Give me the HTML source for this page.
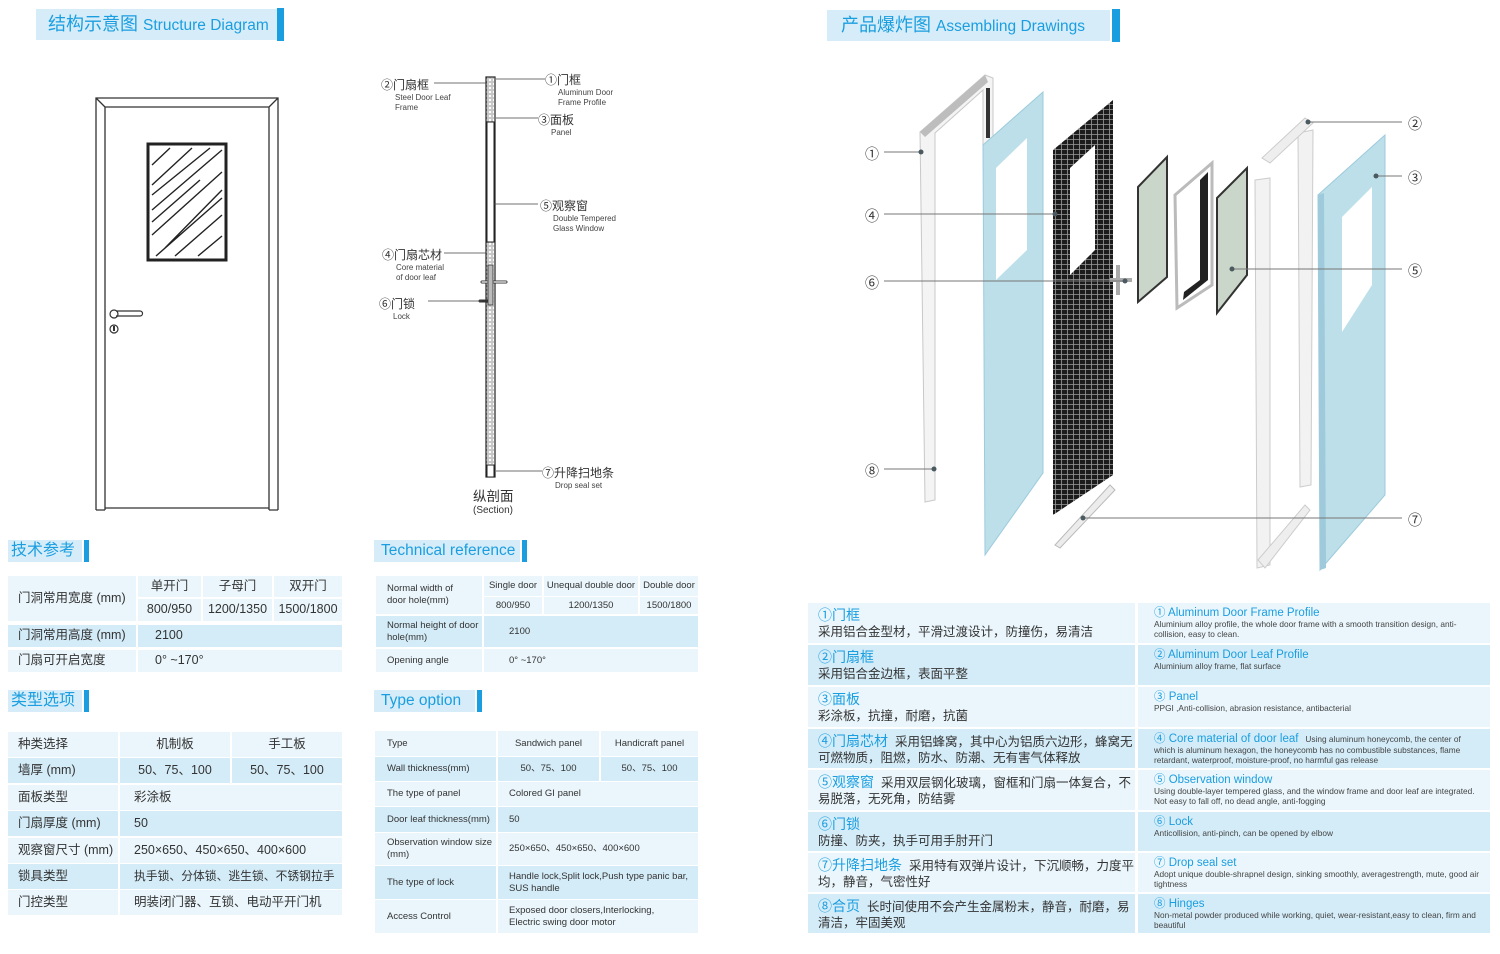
<!DOCTYPE html>
<html><head><meta charset="utf-8">
<style>
*{margin:0;padding:0;box-sizing:border-box}
body{width:1500px;height:954px;background:#fff;position:relative;overflow:hidden;font-family:"Liberation Sans","Noto Sans CJK SC",sans-serif;color:#333}
.a{position:absolute}
.hd{position:absolute;background:#d6edf9;color:#1a9ee0;white-space:nowrap}
.bar{position:absolute;background:#1a9ee0}
.c{position:absolute;display:flex;align-items:center;font-size:12.5px;color:#333;line-height:1.25;white-space:nowrap}
.d{background:#d4ecf8}.l{background:#eaf6fc}
.s{font-size:9.5px}
.ctr{justify-content:center;text-align:center}
.rc{position:absolute;left:808px;width:327px;padding:4px 0 0 10px;font-size:12.5px;line-height:16px;color:#333}
.rr{position:absolute;left:1138px;width:352px;padding:4px 8px 0 16px;font-size:8.3px;line-height:10px;color:#444}
.rc b,.rr b{font-weight:normal;color:#1a9ee0}
.rc b{font-size:14px}.rr b{font-size:11.5px;line-height:12px}
.lb{position:absolute;font-size:12px;color:#333;white-space:nowrap}
.lb i{display:block;font-style:normal;font-size:8px;line-height:10px;color:#444}
</style></head><body>

<div class="hd" style="left:36px;top:9px;width:241px;height:31px;font-size:18px;line-height:31px;padding-left:12px">结构示意图 <span style="font-size:15.5px">Structure Diagram</span></div>
<div class="bar" style="left:277px;top:8px;width:7px;height:33px"></div>
<div class="hd" style="left:827px;top:10px;width:283px;height:31px;font-size:18px;line-height:31px;padding-left:14px">产品爆炸图 <span style="font-size:15.5px">Assembling Drawings</span></div>
<div class="bar" style="left:1112px;top:9px;width:8px;height:33px"></div>

<svg class="a" style="left:0;top:0" width="370" height="530">
<g fill="none" stroke="#333" stroke-width="1.3">
<path d="M96 510 V98 H278 V510 M105 510 V107 H269 V510 M96 98 L105 107 M278 98 L269 107 M96 510 H105 M269 510 H278 M105 508 H269"/>
</g>
<rect x="148" y="144" width="78" height="116" fill="#fff" stroke="#222" stroke-width="3"/>
<g stroke="#222" stroke-width="1.4">
<path d="M152 165 L170 148 M152 185 L192 148 M152 210 L222 150 M152 235 L222 172 M156 256 L222 198 M175 256 L222 215 M198 256 L222 236 M152 222 L200 180 M165 248 L222 190 M152 195 L210 148"/>
</g>
<g fill="none" stroke="#333" stroke-width="1.2">
<circle cx="114" cy="314" r="4"/><path d="M116 311 H140 A2.5 2.5 0 0 1 140 316 H116"/>
<circle cx="114" cy="329" r="4"/>
</g>
<rect x="113" y="326" width="2" height="5" fill="#333"/>
</svg>

<svg class="a" style="left:370px;top:60px" width="260" height="430">
<defs><pattern id="hc" width="4" height="4" patternUnits="userSpaceOnUse"><rect width="4" height="4" fill="#fff"/><circle cx="2" cy="2" r="1.2" fill="none" stroke="#777" stroke-width=".6"/></pattern></defs>
<rect x="116" y="17" width="9" height="400" fill="url(#hc)" stroke="#222" stroke-width="1.2"/>
<rect x="117" y="62" width="7" height="120" fill="#fff" stroke="#222"/>
<rect x="117" y="405" width="7" height="12" fill="#fff" stroke="#222"/>
<path d="M112 222 H136 M110 241 H122" stroke="#333" stroke-width="3" stroke-linecap="round" fill="none"/>
<path d="M112 222 H136" stroke="#fff" stroke-width="1.2" stroke-linecap="round"/>
<rect x="118" y="205" width="5" height="40" fill="#bbb" stroke="#333" stroke-width=".8"/>
<g stroke="#444" stroke-width=".8">
<path d="M64 23 H117 M126 19 H175 M126 58 H168 M124 144 H168 M74 193 H116 M58 241 H112 M126 411 H172"/>
</g>
</svg>
<div class="lb" style="left:381px;top:76px">②门扇框<i style="padding-left:14px">Steel Door Leaf<br>Frame</i></div>
<div class="lb" style="left:545px;top:71px">①门框<i style="padding-left:13px">Aluminum Door<br>Frame Profile</i></div>
<div class="lb" style="left:538px;top:111px">③面板<i style="padding-left:13px">Panel</i></div>
<div class="lb" style="left:540px;top:197px">⑤观察窗<i style="padding-left:13px">Double Tempered<br>Glass Window</i></div>
<div class="lb" style="left:382px;top:246px">④门扇芯材<i style="padding-left:14px">Core material<br>of door leaf</i></div>
<div class="lb" style="left:379px;top:295px">⑥门锁<i style="padding-left:14px">Lock</i></div>
<div class="lb" style="left:542px;top:464px">⑦升降扫地条<i style="padding-left:13px">Drop seal set</i></div>
<div class="lb" style="left:473px;top:485px;font-size:13.5px">纵剖面</div>
<div class="lb" style="left:473px;top:505px;font-size:10px">(Section)</div>

<svg class="a" style="left:850px;top:55px" width="600" height="540">
<defs>
<pattern id="hcb" width="6" height="5" patternUnits="userSpaceOnUse"><rect width="6" height="5" fill="#1c1c1c"/><path d="M0 4.5 H6 M5.5 0 V5" stroke="#9a9a9a" stroke-width=".8"/></pattern>
</defs>
<g transform="translate(-850,-55)">
<polygon points="920,132 985,75 993,78 993,140 983,145 983,90 935,133 935,500 925,502" fill="#f4f4f4" stroke="#c8c8c8"/>
<polygon points="920,132 985,75 988,82 925,137" fill="#bdbdbd"/>
<rect x="986" y="88" width="4" height="50" fill="#333"/>
<polygon points="983,145 1043,92 1043,473 985,555" fill="#bcdfea" stroke="#9ccbdc"/>
<polygon points="996,168 1027,138 1027,250 996,280" fill="#fff"/>
<polygon points="1053,150 1113,100 1113,475 1053,515" fill="url(#hcb)"/>
<polygon points="1070,168 1095,145 1095,250 1070,275" fill="#fff"/>
<path d="M1118 265 V295 M1110 280 H1132" stroke="#aaa" stroke-width="4"/>
<polygon points="1055,545 1110,485 1115,490 1060,548" fill="#ececec" stroke="#bbb"/>
<polygon points="1138,187 1167,157 1167,277 1138,302" fill="#c9d6c9" stroke="#333" stroke-width="2"/>
<polygon points="1175,195 1212,163 1212,285 1177,308" fill="#fff" stroke="#bbb" stroke-width="3"/>
<polygon points="1200,180 1208,172 1208,280 1183,300 1184,292 1200,280" fill="#222"/>
<polygon points="1217,198 1247,168 1247,275 1217,313" fill="#c9d6c9" stroke="#333" stroke-width="2"/>
<polygon points="1255,180 1270,178 1270,565 1257,568" fill="#f2f2f2" stroke="#ccc"/>
<polygon points="1298,133 1313,130 1311,485 1300,487" fill="#f2f2f2" stroke="#ccc"/>
<polygon points="1262,158 1305,118 1313,123 1270,163" fill="#eee" stroke="#ccc"/>
<polygon points="1258,560 1305,505 1310,510 1265,568" fill="#eee" stroke="#ccc"/>
<polygon points="1318,195 1385,135 1385,495 1320,570" fill="#bcdfea" stroke="#9ccbdc"/>
<polygon points="1318,195 1324,193 1326,568 1320,570" fill="#9fcadb"/>
<polygon points="1342,217 1372,187 1372,285 1342,332" fill="#fff"/>
</g>
<g stroke="#777" stroke-width="1">
<path d="M34 97 H71 M34 159 H205 M34 226 H275 M34 414 H84 M458 67 H552 M526 121 H552 M382 214 H552 M233 463 H552"/>
</g>
<g fill="#4a5a60"><circle cx="71" cy="97" r="2.5"/><circle cx="205" cy="159" r="2.5"/><circle cx="275" cy="226" r="2.5"/><circle cx="84" cy="414" r="2.5"/><circle cx="458" cy="67" r="2.5"/><circle cx="526" cy="121" r="2.5"/><circle cx="382" cy="214" r="2.5"/><circle cx="233" cy="463" r="2.5"/></g>
</svg>
<div class="lb" style="left:865px;top:144px;font-size:14px">①</div>
<div class="lb" style="left:865px;top:206px;font-size:14px">④</div>
<div class="lb" style="left:865px;top:273px;font-size:14px">⑥</div>
<div class="lb" style="left:865px;top:461px;font-size:14px">⑧</div>
<div class="lb" style="left:1408px;top:114px;font-size:14px">②</div>
<div class="lb" style="left:1408px;top:168px;font-size:14px">③</div>
<div class="lb" style="left:1408px;top:261px;font-size:14px">⑤</div>
<div class="lb" style="left:1408px;top:510px;font-size:14px">⑦</div>

<div class="hd" style="left:8px;top:540px;width:74px;height:22px;font-size:16px;line-height:22px;padding-left:3px">技术参考</div><div class="bar" style="left:84px;top:540px;width:5px;height:22px"></div>
<div class="hd" style="left:374px;top:540px;width:146px;height:22px;font-size:15.5px;line-height:22px;padding-left:7px">Technical reference</div><div class="bar" style="left:522px;top:540px;width:5px;height:22px"></div>
<div class="hd" style="left:8px;top:690px;width:74px;height:22px;font-size:16px;line-height:22px;padding-left:3px">类型选项</div><div class="bar" style="left:84px;top:690px;width:5px;height:22px"></div>
<div class="hd" style="left:374px;top:690px;width:101px;height:22px;font-size:15.5px;line-height:22px;padding-left:7px">Type option</div><div class="bar" style="left:477px;top:690px;width:5px;height:22px"></div>

<div class="c l" style="left:8px;top:576px;width:128px;height:45px;padding-left:10px">门洞常用宽度 (mm)</div>
<div class="c l ctr" style="left:138px;top:576px;width:63px;height:21px">单开门</div>
<div class="c l ctr" style="left:203px;top:576px;width:69px;height:21px">子母门</div>
<div class="c l ctr" style="left:274px;top:576px;width:68px;height:21px">双开门</div>
<div class="c l ctr" style="left:138px;top:599px;width:63px;height:22px">800/950</div>
<div class="c l ctr" style="left:203px;top:599px;width:69px;height:22px">1200/1350</div>
<div class="c l ctr" style="left:274px;top:599px;width:68px;height:22px">1500/1800</div>
<div class="c d" style="left:8px;top:625px;width:128px;height:22px;padding-left:10px">门洞常用高度 (mm)</div>
<div class="c d" style="left:138px;top:625px;width:204px;height:22px;padding-left:17px">2100</div>
<div class="c l" style="left:8px;top:650px;width:128px;height:22px;padding-left:10px">门扇可开启宽度</div>
<div class="c l" style="left:138px;top:650px;width:204px;height:22px;padding-left:17px">0° ~170°</div>

<div class="c l" style="left:8px;top:732px;width:110px;height:25px;padding-left:10px">种类选择</div>
<div class="c l ctr" style="left:120px;top:732px;width:110px;height:25px">机制板</div>
<div class="c l ctr" style="left:232px;top:732px;width:110px;height:25px">手工板</div>
<div class="c d" style="left:8px;top:758px;width:110px;height:25px;padding-left:10px">墙厚 (mm)</div>
<div class="c d ctr" style="left:120px;top:758px;width:110px;height:25px">50、75、100</div>
<div class="c d ctr" style="left:232px;top:758px;width:110px;height:25px">50、75、100</div>
<div class="c l" style="left:8px;top:785px;width:110px;height:25px;padding-left:10px">面板类型</div>
<div class="c l" style="left:120px;top:785px;width:222px;height:25px;padding-left:14px">彩涂板</div>
<div class="c d" style="left:8px;top:811px;width:110px;height:25px;padding-left:10px">门扇厚度 (mm)</div>
<div class="c d" style="left:120px;top:811px;width:222px;height:25px;padding-left:14px">50</div>
<div class="c l" style="left:8px;top:838px;width:110px;height:25px;padding-left:10px">观察窗尺寸 (mm)</div>
<div class="c l" style="left:120px;top:838px;width:222px;height:25px;padding-left:14px">250×650、450×650、400×600</div>
<div class="c d" style="left:8px;top:864px;width:110px;height:25px;padding-left:10px">锁具类型</div>
<div class="c d" style="left:120px;top:864px;width:222px;height:25px;padding-left:14px;font-size:11.8px">执手锁、分体锁、逃生锁、不锈钢拉手</div>
<div class="c l" style="left:8px;top:890px;width:110px;height:25px;padding-left:10px">门控类型</div>
<div class="c l" style="left:120px;top:890px;width:222px;height:25px;padding-left:14px">明装闭门器、互锁、电动平开门机</div>

<div class="c l s" style="left:376px;top:576px;width:106px;height:38px;padding-left:11px">Normal width of<br>door hole(mm)</div>
<div class="c l s ctr" style="left:484px;top:576px;width:58px;height:20px">Single door</div>
<div class="c l s ctr" style="left:544px;top:576px;width:94px;height:20px">Unequal double door</div>
<div class="c l s ctr" style="left:640px;top:576px;width:58px;height:20px">Double door</div>
<div class="c l s ctr" style="left:484px;top:597px;width:58px;height:17px">800/950</div>
<div class="c l s ctr" style="left:544px;top:597px;width:94px;height:17px">1200/1350</div>
<div class="c l s ctr" style="left:640px;top:597px;width:58px;height:17px">1500/1800</div>
<div class="c d s" style="left:376px;top:616px;width:106px;height:31px;padding-left:11px">Normal height of door<br>hole(mm)</div>
<div class="c d s" style="left:484px;top:616px;width:214px;height:31px;padding-left:25px">2100</div>
<div class="c l s" style="left:376px;top:649px;width:106px;height:23px;padding-left:11px">Opening angle</div>
<div class="c l s" style="left:484px;top:649px;width:214px;height:23px;padding-left:25px">0° ~170°</div>

<div class="c l s" style="left:375px;top:731px;width:121px;height:25px;padding-left:12px">Type</div>
<div class="c l s ctr" style="left:498px;top:731px;width:101px;height:25px">Sandwich panel</div>
<div class="c l s ctr" style="left:601px;top:731px;width:97px;height:25px">Handicraft panel</div>
<div class="c d s" style="left:375px;top:757px;width:121px;height:24px;padding-left:12px">Wall thickness(mm)</div>
<div class="c d s ctr" style="left:498px;top:757px;width:101px;height:24px">50、75、100</div>
<div class="c d s ctr" style="left:601px;top:757px;width:97px;height:24px">50、75、100</div>
<div class="c l s" style="left:375px;top:782px;width:121px;height:24px;padding-left:12px">The type of panel</div>
<div class="c l s" style="left:498px;top:782px;width:200px;height:24px;padding-left:11px">Colored GI panel</div>
<div class="c d s" style="left:375px;top:807px;width:121px;height:25px;padding-left:12px">Door leaf thickness(mm)</div>
<div class="c d s" style="left:498px;top:807px;width:200px;height:25px;padding-left:11px">50</div>
<div class="c l s" style="left:375px;top:833px;width:121px;height:32px;padding-left:12px">Observation window size<br>(mm)</div>
<div class="c l s" style="left:498px;top:833px;width:200px;height:32px;padding-left:11px">250×650、450×650、400×600</div>
<div class="c d s" style="left:375px;top:866px;width:121px;height:33px;padding-left:12px">The type of lock</div>
<div class="c d s" style="left:498px;top:866px;width:200px;height:33px;padding-left:11px">Handle lock,Split lock,Push type panic bar,<br>SUS handle</div>
<div class="c l s" style="left:375px;top:900px;width:121px;height:33px;padding-left:12px">Access Control</div>
<div class="c l s" style="left:498px;top:900px;width:200px;height:33px;padding-left:11px">Exposed door closers,Interlocking,<br>Electric swing door motor</div>

<div class="rc l" style="top:603px;height:40px"><b>①门框</b><br>采用铝合金型材，平滑过渡设计，防撞伤，易清洁</div>
<div class="rr l" style="top:603px;height:40px"><b>① Aluminum Door Frame Profile</b><br>Aluminium alloy profile, the whole door frame with a smooth transition design, anti-collision, easy to clean.</div>
<div class="rc d" style="top:645px;height:40px"><b>②门扇框</b><br>采用铝合金边框，表面平整</div>
<div class="rr d" style="top:645px;height:40px"><b>② Aluminum Door Leaf Profile</b><br>Aluminium alloy frame, flat surface</div>
<div class="rc l" style="top:687px;height:40px"><b>③面板</b><br>彩涂板，抗撞，耐磨，抗菌</div>
<div class="rr l" style="top:687px;height:40px"><b>③ Panel</b><br>PPGI ,Anti-collision, abrasion resistance, antibacterial</div>
<div class="rc d" style="top:729px;height:39px"><b>④门扇芯材</b>&nbsp; 采用铝蜂窝，其中心为铝质六边形，蜂窝无可燃物质，阻燃，防水、防潮、无有害气体释放</div>
<div class="rr d" style="top:729px;height:39px"><b>④ Core material of door leaf</b>&nbsp;&nbsp; Using aluminum honeycomb, the center of which is aluminum hexagon, the honeycomb has no combustible substances, flame retardant, waterproof, moisture-proof, no harmful gas release</div>
<div class="rc l" style="top:770px;height:40px"><b>⑤观察窗</b>&nbsp; 采用双层钢化玻璃，窗框和门扇一体复合，不易脱落，无死角，防结雾</div>
<div class="rr l" style="top:770px;height:40px"><b>⑤ Observation window</b><br>Using double-layer tempered glass, and the window frame and door leaf are integrated. Not easy to fall off, no dead angle, anti-fogging</div>
<div class="rc d" style="top:812px;height:39px"><b>⑥门锁</b><br>防撞、防夹，执手可用手肘开门</div>
<div class="rr d" style="top:812px;height:39px"><b>⑥ Lock</b><br>Anticollision, anti-pinch, can be opened by elbow</div>
<div class="rc l" style="top:853px;height:39px"><b>⑦升降扫地条</b>&nbsp; 采用特有双弹片设计，下沉顺畅，力度平均，静音，气密性好</div>
<div class="rr l" style="top:853px;height:39px"><b>⑦ Drop seal set</b><br>Adopt unique double-shrapnel design, sinking smoothly, averagestrength, mute, good air tightness</div>
<div class="rc d" style="top:894px;height:39px"><b>⑧合页</b>&nbsp; 长时间使用不会产生金属粉末，静音，耐磨，易清洁，牢固美观</div>
<div class="rr d" style="top:894px;height:39px"><b>⑧ Hinges</b><br>Non-metal powder produced while working, quiet, wear-resistant,easy to clean, firm and beautiful</div>

</body></html>
